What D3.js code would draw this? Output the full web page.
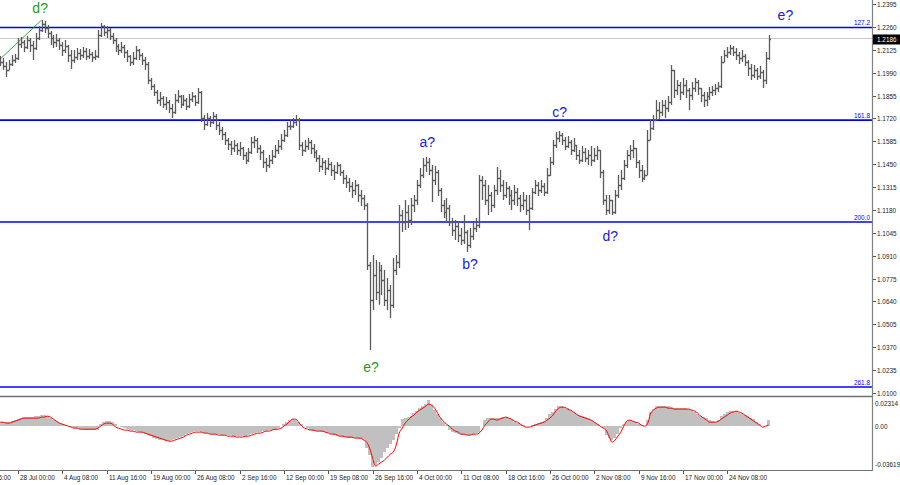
<!DOCTYPE html>
<html><head><meta charset="utf-8">
<script src="https://cdn.jsdelivr.net/npm/d3@7/dist/d3.min.js"></script>
<style>html,body{margin:0;padding:0;background:#fff;}svg{display:block;font-family:"Liberation Sans",Arial,sans-serif;}</style>
</head><body><svg id="c" width="900" height="485"></svg>
<script>
const op = [
1.2065,1.2053,1.2030,1.2006,1.2041,1.2065,1.2077,1.2159,1.2171,1.2142,
1.2183,1.2154,1.2136,1.2195,1.2242,1.2277,1.2254,1.2224,1.2195,1.2171,
1.2183,1.2154,1.2124,1.2148,1.2095,1.2065,1.2083,1.2106,1.2095,1.2118,
1.2089,1.2100,1.2083,1.2089,1.2212,1.2266,1.2230,1.2242,1.2207,1.2183,
1.2148,1.2124,1.2142,1.2112,1.2089,1.2053,1.2077,1.2124,1.2095,1.2065,
1.2041,1.1947,1.1912,1.1876,1.1829,1.1841,1.1805,1.1817,1.1782,1.1758,
1.1829,1.1853,1.1805,1.1829,1.1794,1.1835,1.1853,1.1817,1.1876,1.1723,
1.1687,1.1723,1.1699,1.1735,1.1682,1.1652,1.1628,1.1593,1.1569,1.1546,
1.1564,1.1534,1.1546,1.1505,1.1475,1.1522,1.1581,1.1593,1.1546,1.1522,
1.1463,1.1446,1.1475,1.1499,1.1534,1.1558,1.1593,1.1622,1.1676,1.1676,
1.1699,1.1711,1.1564,1.1534,1.1558,1.1581,1.1546,1.1522,1.1487,1.1440,
1.1463,1.1428,1.1451,1.1416,1.1404,1.1446,1.1404,1.1369,1.1345,1.1322,
1.1298,1.1328,1.1269,1.1251,1.1210,1.0855,1.0649,1.0797,1.0696,1.0826,
1.0767,1.0649,1.0708,1.0620,1.0826,1.0873,1.1151,1.1109,1.1168,1.1121,
1.1210,1.1239,1.1328,1.1387,1.1446,1.1463,1.1416,1.1357,1.1404,1.1298,
1.1210,1.1168,1.1192,1.1109,1.1062,1.1086,1.1033,1.1003,1.1050,1.0974,
1.1027,1.1074,1.1092,1.1357,1.1328,1.1239,1.1269,1.1210,1.1298,1.1369,
1.1328,1.1269,1.1310,1.1269,1.1239,1.1286,1.1251,1.1210,1.1239,1.1180,
1.1192,1.1286,1.1328,1.1298,1.1322,1.1286,1.1387,1.1463,1.1564,1.1605,
1.1622,1.1593,1.1558,1.1581,1.1534,1.1564,1.1505,1.1475,1.1522,1.1487,
1.1505,1.1475,1.1505,1.1534,1.1404,1.1239,1.1180,1.1239,1.1168,1.1269,
1.1328,1.1369,1.1446,1.1505,1.1534,1.1546,1.1463,1.1416,1.1369,1.1387,
1.1593,1.1664,1.1711,1.1770,1.1758,1.1800,1.1782,1.1817,1.2006,1.1888,
1.1918,1.1876,1.1918,1.1888,1.1859,1.1900,1.1935,1.1900,1.1859,1.1829,
1.1853,1.1876,1.1888,1.1900,1.1912,1.2053,1.2095,1.2112,1.2136,1.2112,
1.2095,1.2077,1.2089,1.2053,1.2018,1.1977,1.2006,1.1971,1.1994,1.1947,
1.2077];
const hi = [
1.2089,1.2077,1.2053,1.2065,1.2095,1.2100,1.2195,1.2201,1.2183,1.2207,
1.2195,1.2177,1.2224,1.2266,1.2301,1.2295,1.2272,1.2236,1.2212,1.2218,
1.2195,1.2171,1.2183,1.2154,1.2124,1.2124,1.2136,1.2130,1.2142,1.2136,
1.2130,1.2112,1.2124,1.2242,1.2283,1.2272,1.2266,1.2254,1.2224,1.2195,
1.2159,1.2171,1.2154,1.2124,1.2095,1.2112,1.2148,1.2130,1.2106,1.2083,
1.2053,1.1959,1.1923,1.1888,1.1876,1.1853,1.1847,1.1829,1.1805,1.1864,
1.1888,1.1859,1.1859,1.1841,1.1864,1.1876,1.1859,1.1900,1.1882,1.1741,
1.1752,1.1735,1.1758,1.1746,1.1699,1.1670,1.1640,1.1605,1.1587,1.1593,
1.1575,1.1581,1.1552,1.1522,1.1546,1.1611,1.1617,1.1605,1.1564,1.1534,
1.1487,1.1505,1.1534,1.1564,1.1593,1.1628,1.1652,1.1699,1.1717,1.1723,
1.1741,1.1723,1.1581,1.1593,1.1605,1.1593,1.1569,1.1534,1.1505,1.1487,
1.1475,1.1487,1.1463,1.1446,1.1463,1.1451,1.1416,1.1387,1.1369,1.1345,
1.1357,1.1333,1.1298,1.1269,1.1221,1.0873,1.0914,1.0885,1.0873,1.0855,
1.0826,1.0779,1.0738,1.0897,1.0914,1.1210,1.1180,1.1239,1.1210,1.1251,
1.1269,1.1357,1.1428,1.1487,1.1493,1.1487,1.1446,1.1440,1.1416,1.1310,
1.1239,1.1251,1.1210,1.1133,1.1121,1.1109,1.1074,1.1151,1.1062,1.1074,
1.1109,1.1133,1.1387,1.1381,1.1357,1.1328,1.1286,1.1328,1.1434,1.1416,
1.1357,1.1345,1.1322,1.1298,1.1328,1.1310,1.1269,1.1286,1.1269,1.1269,
1.1310,1.1357,1.1345,1.1357,1.1339,1.1428,1.1493,1.1593,1.1640,1.1646,
1.1634,1.1611,1.1617,1.1593,1.1605,1.1564,1.1534,1.1558,1.1546,1.1534,
1.1558,1.1546,1.1558,1.1534,1.1416,1.1269,1.1269,1.1239,1.1298,1.1387,
1.1416,1.1475,1.1534,1.1564,1.1593,1.1534,1.1475,1.1446,1.1416,1.1652,
1.1711,1.1741,1.1829,1.1817,1.1829,1.1829,1.1853,1.2036,1.2006,1.1947,
1.1935,1.1959,1.1947,1.1900,1.1935,1.1959,1.1947,1.1900,1.1876,1.1876,
1.1906,1.1912,1.1923,1.1935,1.2089,1.2124,1.2142,1.2154,1.2148,1.2136,
1.2112,1.2124,1.2100,1.2065,1.2041,1.2036,1.2018,1.2030,1.2006,1.2112,
1.2212];
const lo = [
1.2030,1.2006,1.1965,1.2006,1.2030,1.2047,1.2065,1.2136,1.2112,1.2130,
1.2112,1.2065,1.2124,1.2183,1.2230,1.2224,1.2195,1.2154,1.2136,1.2142,
1.2124,1.2089,1.2106,1.2053,1.2012,1.2047,1.2065,1.2065,1.2077,1.2065,
1.2071,1.2053,1.2065,1.2077,1.2201,1.2207,1.2195,1.2183,1.2159,1.2112,
1.2095,1.2106,1.2077,1.2053,1.2030,1.2036,1.2065,1.2065,1.2036,1.2006,
1.1923,1.1888,1.1853,1.1805,1.1794,1.1782,1.1770,1.1752,1.1723,1.1746,
1.1811,1.1782,1.1794,1.1770,1.1782,1.1817,1.1794,1.1805,1.1699,1.1652,
1.1676,1.1670,1.1687,1.1652,1.1622,1.1593,1.1564,1.1534,1.1505,1.1522,
1.1505,1.1499,1.1475,1.1451,1.1463,1.1510,1.1546,1.1516,1.1475,1.1428,
1.1404,1.1428,1.1451,1.1487,1.1510,1.1534,1.1581,1.1611,1.1652,1.1664,
1.1676,1.1534,1.1499,1.1522,1.1534,1.1510,1.1487,1.1463,1.1404,1.1416,
1.1387,1.1416,1.1381,1.1357,1.1392,1.1381,1.1333,1.1310,1.1286,1.1251,
1.1269,1.1227,1.1204,1.1180,1.0826,1.0354,1.0590,1.0649,1.0620,1.0679,
1.0614,1.0590,1.0543,1.0602,1.0797,1.0838,1.1050,1.1062,1.1074,1.1092,
1.1168,1.1210,1.1310,1.1369,1.1404,1.1387,1.1227,1.1328,1.1263,1.1168,
1.1133,1.1109,1.1086,1.1027,1.1003,1.0991,1.0974,1.0979,1.0932,1.0956,
1.1003,1.1050,1.1074,1.1239,1.1210,1.1151,1.1168,1.1192,1.1269,1.1286,
1.1239,1.1251,1.1210,1.1180,1.1210,1.1204,1.1168,1.1180,1.1151,1.1062,
1.1180,1.1274,1.1263,1.1280,1.1263,1.1274,1.1381,1.1446,1.1546,1.1581,
1.1564,1.1534,1.1546,1.1505,1.1522,1.1475,1.1451,1.1463,1.1463,1.1446,
1.1440,1.1463,1.1475,1.1369,1.1210,1.1151,1.1156,1.1151,1.1156,1.1251,
1.1298,1.1357,1.1428,1.1475,1.1487,1.1428,1.1369,1.1345,1.1357,1.1387,
1.1593,1.1652,1.1711,1.1711,1.1735,1.1723,1.1758,1.1800,1.1841,1.1859,
1.1829,1.1859,1.1841,1.1770,1.1829,1.1876,1.1859,1.1817,1.1788,1.1794,
1.1829,1.1853,1.1859,1.1876,1.1900,1.2053,1.2077,1.2095,1.2089,1.2065,
1.2041,1.2053,1.2030,1.1971,1.1947,1.1959,1.1947,1.1953,1.1900,1.1923,
1.2065];
const cl = [
1.2053,1.2030,1.2006,1.2041,1.2065,1.2077,1.2159,1.2171,1.2142,1.2183,
1.2154,1.2136,1.2195,1.2242,1.2277,1.2254,1.2224,1.2195,1.2171,1.2183,
1.2154,1.2124,1.2148,1.2095,1.2065,1.2083,1.2106,1.2095,1.2118,1.2089,
1.2100,1.2083,1.2089,1.2212,1.2266,1.2230,1.2242,1.2207,1.2183,1.2148,
1.2124,1.2142,1.2112,1.2089,1.2053,1.2077,1.2124,1.2095,1.2065,1.2041,
1.1947,1.1912,1.1876,1.1829,1.1841,1.1805,1.1817,1.1782,1.1758,1.1829,
1.1853,1.1805,1.1829,1.1794,1.1835,1.1853,1.1817,1.1876,1.1723,1.1687,
1.1723,1.1699,1.1735,1.1682,1.1652,1.1628,1.1593,1.1569,1.1546,1.1564,
1.1534,1.1546,1.1505,1.1475,1.1522,1.1581,1.1593,1.1546,1.1522,1.1463,
1.1446,1.1475,1.1499,1.1534,1.1558,1.1593,1.1622,1.1676,1.1676,1.1699,
1.1711,1.1564,1.1534,1.1558,1.1581,1.1546,1.1522,1.1487,1.1440,1.1463,
1.1428,1.1451,1.1416,1.1404,1.1446,1.1404,1.1369,1.1345,1.1322,1.1298,
1.1328,1.1269,1.1251,1.1210,1.0855,1.0649,1.0797,1.0696,1.0826,1.0767,
1.0649,1.0708,1.0620,1.0826,1.0873,1.1151,1.1109,1.1168,1.1121,1.1210,
1.1239,1.1328,1.1387,1.1446,1.1463,1.1416,1.1357,1.1404,1.1298,1.1210,
1.1168,1.1192,1.1109,1.1062,1.1086,1.1033,1.1003,1.1050,1.0974,1.1027,
1.1074,1.1092,1.1357,1.1328,1.1239,1.1269,1.1210,1.1298,1.1369,1.1328,
1.1269,1.1310,1.1269,1.1239,1.1286,1.1251,1.1210,1.1239,1.1180,1.1192,
1.1286,1.1328,1.1298,1.1322,1.1286,1.1387,1.1463,1.1564,1.1605,1.1622,
1.1593,1.1558,1.1581,1.1534,1.1564,1.1505,1.1475,1.1522,1.1487,1.1505,
1.1475,1.1505,1.1534,1.1404,1.1239,1.1180,1.1239,1.1168,1.1269,1.1328,
1.1369,1.1446,1.1505,1.1534,1.1546,1.1463,1.1416,1.1369,1.1387,1.1593,
1.1664,1.1711,1.1770,1.1758,1.1800,1.1782,1.1817,1.2006,1.1888,1.1918,
1.1876,1.1918,1.1888,1.1859,1.1900,1.1935,1.1900,1.1859,1.1829,1.1853,
1.1876,1.1888,1.1900,1.1912,1.2053,1.2095,1.2112,1.2136,1.2112,1.2095,
1.2077,1.2089,1.2053,1.2018,1.1977,1.2006,1.1971,1.1994,1.1947,1.2077,
1.2186];
const macdMain = [
.0035,.0035,.0035,.0035,.0044,.0053,.0062,.0071,.0080,.0080,
.0080,.0080,.0089,.0089,.0097,.0097,.0089,.0071,.0053,.0044,
.0027,.0018,.0009,0,-.0009,-.0018,-.0018,-.0027,-.0027,-.0035,
-.0035,-.0035,-.0035,-.0035,.0018,.0035,.0044,.0044,.0035,.0018,
0,-.0009,-.0018,-.0027,-.0035,-.0035,-.0044,-.0053,-.0062,-.0071,
-.0080,-.0089,-.0106,-.0115,-.0124,-.0124,-.0133,-.0133,-.0124,-.0115,
-.0106,-.0097,-.0089,-.0071,-.0062,-.0053,-.0044,-.0044,-.0053,-.0062,
-.0062,-.0071,-.0071,-.0071,-.0071,-.0080,-.0080,-.0080,-.0080,-.0089,
-.0089,-.0089,-.0089,-.0089,-.0080,-.0071,-.0062,-.0053,-.0053,-.0044,
-.0044,-.0035,-.0035,-.0035,-.0018,0,.0018,.0035,.0053,.0062,
.0053,.0035,.0018,0,-.0018,-.0035,-.0044,-.0044,-.0044,-.0053,
-.0053,-.0062,-.0071,-.0080,-.0089,-.0089,-.0097,-.0097,-.0106,-.0106,
-.0106,-.0106,-.0115,-.0124,-.0195,-.0257,-.0360,-.0346,-.0319,-.0284,
-.0230,-.0195,-.0159,-.0124,-.0071,-.0018,.0062,.0071,.0080,.0089,
.0115,.0133,.0159,.0177,.0195,.0231,.0186,.0142,.0106,.0071,
.0035,.0009,-.0035,-.0053,-.0062,-.0071,-.0080,-.0080,-.0080,-.0080,
-.0071,-.0062,-.0053,0,.0053,.0071,.0071,.0071,.0071,.0071,
.0080,.0080,.0071,.0062,.0035,.0027,.0018,.0009,0,0,
.0009,.0018,.0027,.0035,.0044,.0071,.0106,.0124,.0151,.0177,
.0177,.0168,.0159,.0142,.0124,.0106,.0097,.0089,.0080,.0071,
.0053,.0035,.0018,0,-.0018,-.0080,-.0106,-.0124,-.0106,-.0071,
-.0018,.0018,.0035,.0053,.0044,.0035,.0018,.0009,0,.0053,
.0124,.0151,.0177,.0177,.0177,.0177,.0177,.0168,.0159,.0159,
.0159,.0159,.0159,.0151,.0142,.0124,.0106,.0089,.0080,.0071,
.0053,.0044,.0035,.0053,.0089,.0106,.0124,.0133,.0133,.0133,
.0115,.0106,.0097,.0089,.0071,.0062,.0035,.0018,0,0,
.0053];
const macdSignal = [
.0035,.0035,.0027,.0027,.0035,.0044,.0053,.0062,.0071,.0071,
.0071,.0071,.0071,.0071,.0080,.0080,.0089,.0080,.0062,.0044,
.0027,.0018,.0009,0,-.0009,-.0018,-.0018,-.0027,-.0027,-.0027,
-.0027,-.0027,-.0027,-.0018,0,.0018,.0027,.0027,.0018,-.0009,
-.0018,-.0027,-.0035,-.0035,-.0044,-.0044,-.0053,-.0053,-.0053,-.0062,
-.0071,-.0080,-.0089,-.0097,-.0106,-.0115,-.0124,-.0133,-.0133,-.0124,
-.0115,-.0106,-.0097,-.0080,-.0071,-.0062,-.0053,-.0053,-.0053,-.0062,
-.0062,-.0071,-.0071,-.0071,-.0080,-.0080,-.0080,-.0089,-.0089,-.0089,
-.0097,-.0097,-.0097,-.0089,-.0089,-.0080,-.0071,-.0062,-.0062,-.0053,
-.0044,-.0044,-.0035,-.0027,-.0027,-.0018,0,.0018,.0044,.0062,
.0062,.0035,0,-.0018,-.0027,-.0035,-.0035,-.0044,-.0044,-.0044,
-.0053,-.0062,-.0071,-.0071,-.0080,-.0089,-.0089,-.0097,-.0097,-.0097,
-.0106,-.0106,-.0106,-.0124,-.0142,-.0195,-.0284,-.0354,-.0337,-.0319,
-.0301,-.0275,-.0248,-.0230,-.0168,-.0062,-.0018,.0027,.0053,.0080,
.0097,.0124,.0142,.0159,.0177,.0195,.0186,.0159,.0115,.0071,
.0044,.0018,0,-.0027,-.0044,-.0053,-.0071,-.0071,-.0080,-.0080,
-.0071,-.0071,-.0062,-.0035,.0009,.0035,.0062,.0062,.0053,.0062,
.0071,.0080,.0071,.0062,.0044,.0035,.0018,0,-.0009,-.0009,
0,.0009,.0018,.0027,.0035,.0053,.0071,.0097,.0133,.0159,
.0168,.0168,.0151,.0142,.0124,.0106,.0089,.0080,.0071,.0062,
.0053,.0035,.0018,0,-.0018,-.0035,-.0089,-.0142,-.0124,-.0089,
-.0053,0,.0044,.0053,.0044,.0035,.0027,.0009,0,.0018,
.0106,.0142,.0159,.0168,.0168,.0168,.0159,.0159,.0151,.0151,
.0151,.0151,.0151,.0151,.0142,.0133,.0115,.0089,.0071,.0053,
.0035,.0035,.0035,.0044,.0062,.0080,.0097,.0115,.0124,.0133,
.0124,.0115,.0097,.0080,.0062,.0044,.0027,.0009,-.0009,0,
.0009];
const priceTicks = [1.2395,1.2260,1.2125,1.1990,1.1855,1.1720,1.1585,1.1450,1.1315,1.1180,1.1045,1.0910,1.0775,1.0640,1.0505,1.0370,1.0235,1.0100];
const macdTicks = [0.02314, 0.00, -0.03619];
const macdTickLabels = ["0.02314","0.00","-0.03619"];
const timeLabels = ["20 Jul 16:00","28 Jul 00:00","4 Aug 08:00","11 Aug 16:00","19 Aug 00:00","26 Aug 08:00","2 Sep 16:00","12 Sep 00:00","19 Sep 08:00","26 Sep 16:00","4 Oct 00:00","11 Oct 08:00","18 Oct 16:00","26 Oct 00:00","2 Nov 08:00","9 Nov 16:00","17 Nov 00:00","24 Nov 08:00"];
const timeBars = [-9,6,21,36,51,66,81,96,111,126,141,156,171,186,201,216,231,246];
const levelNames = ["127.2","161.8","200.0","261.8"];
const levelPrices = [1.2257,1.1710,1.1109,1.0135];
const currentPrice = 1.2186;
const waveText = ["d?","e?","a?","b?","c?","d?","e?"];
const waveBar = [13.5,125.5,144.5,159,189.3,206.4,265.7];
const wavePrice = [1.2342,1.0224,1.1552,1.0832,1.1729,1.0997,1.2301];
const waveGreen = [true,true,false,false,false,false,false];
const trendBars = [0,14];
const trendPrices = [1.2071,1.2301];

const svg = d3.select("#c");
const W = 900, H = 485, plotR = 872;
const x = d3.scaleLinear().domain([0, 260]).range([0.27, 768.57]);
const y = d3.scaleLinear().domain([1.0088, 1.2419]).range([395, 0]);
const m = d3.scaleLinear().domain([-0.03619, 0.02314]).range([467, 400]);
const F = 6.4;

svg.append("rect").attr("width",W).attr("height",H).attr("fill","#fff");
const defs = svg.append("defs");
defs.append("clipPath").attr("id","cp").append("rect").attr("x",0).attr("y",0).attr("width",plotR).attr("height",396);
defs.append("clipPath").attr("id","cm").append("rect").attr("x",0).attr("y",397).attr("width",plotR).attr("height",72);

const pg = svg.append("g").attr("clip-path","url(#cp)");
pg.append("line").attr("x1",0).attr("x2",plotR).attr("y1",Math.round(y(currentPrice))-0.5).attr("y2",Math.round(y(currentPrice))-0.5).attr("stroke","#c8c8c8").attr("stroke-width",1);
levelPrices.forEach((p,k)=>{
  pg.append("line").attr("x1",0).attr("x2",plotR).attr("y1",y(p)).attr("y2",y(p)).attr("stroke","#0000ff").attr("stroke-width",1.6);
  svg.append("text").attr("x",870).attr("y",y(p)-2).attr("text-anchor","end").attr("font-size",F).attr("fill","#0000ff").text(levelNames[k]);
});
pg.append("line").attr("x1",x(trendBars[0])).attr("y1",y(trendPrices[0])).attr("x2",x(trendBars[1])).attr("y2",y(trendPrices[1])).attr("stroke","#22a022").attr("stroke-width",0.9);

// OHLC bars
const idx = d3.range(cl.length);
let d = "";
idx.forEach(i=>{
  const xi = Math.round(x(i)) + 0.5;
  const top = y(Math.max(hi[i], op[i], cl[i])), bot = y(Math.min(lo[i], op[i], cl[i]));
  d += `M${xi},${top.toFixed(1)}V${bot.toFixed(1)}`;
  const yo = Math.round(y(op[i]))+0.5, yc = Math.round(y(cl[i]))+0.5;
  d += `M${xi-1.5},${yo}H${xi}M${xi},${yc}H${xi+1.5}`;
});
pg.append("path").attr("d",d).attr("fill","none").attr("stroke","#5a5a5a").attr("stroke-width",1.3);

waveText.forEach((t,k)=>{
  svg.append("text").attr("x",x(waveBar[k])).attr("y",y(wavePrice[k])).attr("text-anchor","middle")
    .attr("font-size",14).attr("fill",waveGreen[k]?"#1e9a1e":"#2020dd").text(t);
});

// MACD panel
const mg = svg.append("g").attr("clip-path","url(#cm)");
mg.selectAll("rect.h").data(idx).join("rect").attr("class","h")
  .attr("shape-rendering","crispEdges")
  .attr("x",i=>Math.round(x(i-0.5))).attr("width",i=>Math.round(x(i+0.5))-Math.round(x(i-0.5)))
  .attr("y",i=>Math.min(m(0),m(macdMain[i]))).attr("height",i=>Math.abs(m(macdMain[i])-m(0)))
  .attr("fill","#c0c0c0");
mg.append("path").datum(idx).attr("d",d3.line().curve(d3.curveMonotoneX).x(i=>x(i)).y(i=>m(macdSignal[i])))
  .attr("fill","none").attr("stroke","#ff0000").attr("stroke-width",1);

// frame lines
svg.append("line").attr("x1",0).attr("x2",plotR).attr("y1",396.5).attr("y2",396.5).attr("stroke","#707070").attr("stroke-width",1.5);
svg.append("line").attr("x1",0).attr("x2",plotR+0.5).attr("y1",470.5).attr("y2",470.5).attr("stroke","#707070").attr("stroke-width",1);
svg.append("line").attr("x1",plotR+0.5).attr("x2",plotR+0.5).attr("y1",0).attr("y2",471).attr("stroke","#808080").attr("stroke-width",1.2);

// price axis
const ay = svg.append("g");
priceTicks.forEach(p=>{
  const yy = Math.round(y(p))+0.5;
  ay.append("line").attr("x1",plotR+1).attr("x2",plotR+4).attr("y1",yy).attr("y2",yy).attr("stroke","#555");
  ay.append("text").attr("x",877).attr("y",yy).attr("dy","0.35em").attr("font-size",F).attr("fill","#222").text(d3.format(".4f")(p));
});
const cy = y(currentPrice);
svg.append("rect").attr("x",873).attr("y",cy-5).attr("width",27).attr("height",10).attr("fill","#000");
svg.append("text").attr("x",877).attr("y",cy).attr("dy","0.35em").attr("font-size",F).attr("fill","#fff").text(d3.format(".4f")(currentPrice));

macdTicks.forEach((v,k)=>{
  const yy = k===0 ? m(v)+4 : (k===2 ? m(v)-2 : m(v)+1);
  svg.append("text").attr("x",875).attr("y",yy).attr("dy","0.35em").attr("font-size",F).attr("fill","#222").text(macdTickLabels[k]);
});

// time axis
timeBars.forEach((b,k)=>{
  const xx = Math.round(x(b))+0.5;
  svg.append("line").attr("x1",xx).attr("x2",xx).attr("y1",471).attr("y2",474).attr("stroke","#555");
  svg.append("text").attr("x",xx+1.5).attr("y",480).attr("font-size",F).attr("fill","#222").text(timeLabels[k]);
});
</script></body></html>
